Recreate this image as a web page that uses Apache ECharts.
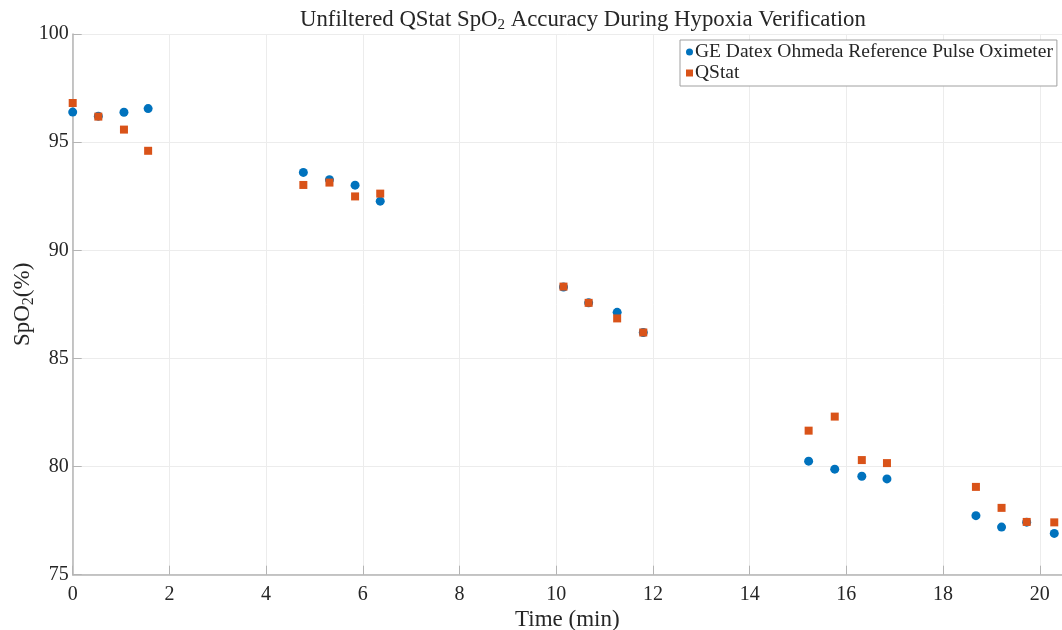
<!DOCTYPE html>
<html>
<head>
<meta charset="utf-8">
<script src="https://cdn.jsdelivr.net/npm/echarts@6/dist/echarts.min.js"></script>
<style>
html,body{margin:0;padding:0;background:#fff;}
#chart{width:1062px;height:630px;}
</style>
</head>
<body>
<div id="chart"></div>
<script>
// time in minutes
var timeMin = [0, 0.53, 1.06, 1.56, 4.77, 5.31, 5.84, 6.36, 10.15, 10.67, 11.26, 11.8,
    15.22, 15.76, 16.32, 16.84, 18.68, 19.21, 19.73, 20.3];
var refSpO2 = [96.39, 96.2, 96.38, 96.55, 93.6, 93.26, 93.01, 92.27, 88.3, 87.57, 87.13, 86.2,
    80.25, 79.88, 79.55, 79.43, 77.73, 77.2, 77.43, 76.91];
var qstatSpO2 = [96.81, 96.18, 95.58, 94.6, 93.02, 93.13, 92.49, 92.62, 88.32, 87.57, 86.85, 86.2,
    81.66, 82.31, 80.3, 80.16, 79.06, 78.09, 77.44, 77.42];
var xTicks = [0, 20.46, 2];
var yTicks = [75, 100, 5];

function pairs(xs, ys) {
    return xs.map(function (x, i) { return [x, ys[i]]; });
}

var font = 'Liberation Serif';
var chart = echarts.init(document.getElementById('chart'));
chart.setOption({
    animation: false,
    textStyle: {fontFamily: font, color: '#262626'},
    title: {
        text: 'Unfiltered QStat SpO{s|2} Accuracy During Hypoxia Verification',
        left: 295,
        top: 2,
        textStyle: {
            fontFamily: font, fontWeight: 'normal', fontSize: 22.8, color: '#262626',
            rich: {s: {fontFamily: font, fontSize: 15, verticalAlign: 'bottom', padding: [11, 0, 0, 0], color: '#262626'}}
        }
    },
    legend: {
        orient: 'vertical',
        left: 680,
        top: 40,
        padding: [2, 4, 3, 6],
        itemGap: 1,
        itemWidth: 7,
        itemHeight: 7,
        backgroundColor: '#fff',
        borderColor: '#a0a0a0',
        borderWidth: 1,
        borderRadius: 0,
        textStyle: {fontFamily: font, fontSize: 19.5, color: '#262626', padding: [0, 0, 0, -3]},
        data: [
            {name: 'GE Datex Ohmeda Reference Pulse Oximeter', icon: 'circle'},
            {name: 'QStat', icon: 'rect'}
        ]
    },
    grid: {left: 72.7, right: 0, top: 34, bottom: 55.3, outerBoundsMode: 'none', containLabel: false},
    xAxis: {
        type: 'value',
        min: xTicks[0], max: xTicks[1], interval: xTicks[2],
        name: 'Time (min)',
        nameLocation: 'middle',
        nameGap: 34,
        nameMoveOverlap: false,
        nameTextStyle: {fontFamily: font, fontSize: 23, color: '#262626'},
        axisLine: {lineStyle: {color: '#b4b4b4', width: 1.5}},
        axisTick: {inside: true, length: 9, lineStyle: {color: '#b4b4b4'}},
        axisLabel: {fontFamily: font, fontSize: 20, color: '#262626', margin: 10, showMaxLabel: false},
        splitLine: {show: true, lineStyle: {color: '#ececec'}}
    },
    yAxis: {
        type: 'value',
        min: yTicks[0], max: yTicks[1], interval: yTicks[2],
        name: 'SpO{s|2}(%)',
        nameLocation: 'middle',
        nameGap: 36,
        nameMoveOverlap: false,
        nameTextStyle: {
            fontFamily: font, fontSize: 23, color: '#262626',
            rich: {s: {fontFamily: font, fontSize: 16, padding: [11, 0, 0, 0], color: '#262626'}}
        },
        axisLine: {show: true, lineStyle: {color: '#b4b4b4', width: 1.5}},
        axisTick: {show: true, inside: true, length: 9, lineStyle: {color: '#b4b4b4'}},
        axisLabel: {fontFamily: font, fontSize: 20, color: '#262626', margin: 4},
        splitLine: {show: true, lineStyle: {color: '#ececec'}}
    },
    series: [
        {
            name: 'GE Datex Ohmeda Reference Pulse Oximeter',
            type: 'scatter',
            symbol: 'circle',
            symbolSize: 9,
            itemStyle: {color: '#0072BD', opacity: 1},
            data: pairs(timeMin, refSpO2)
        },
        {
            name: 'QStat',
            type: 'scatter',
            symbol: 'rect',
            symbolSize: 8,
            itemStyle: {color: '#D95319', opacity: 1},
            data: pairs(timeMin, qstatSpO2)
        }
    ]
});
</script>
</body>
</html>
